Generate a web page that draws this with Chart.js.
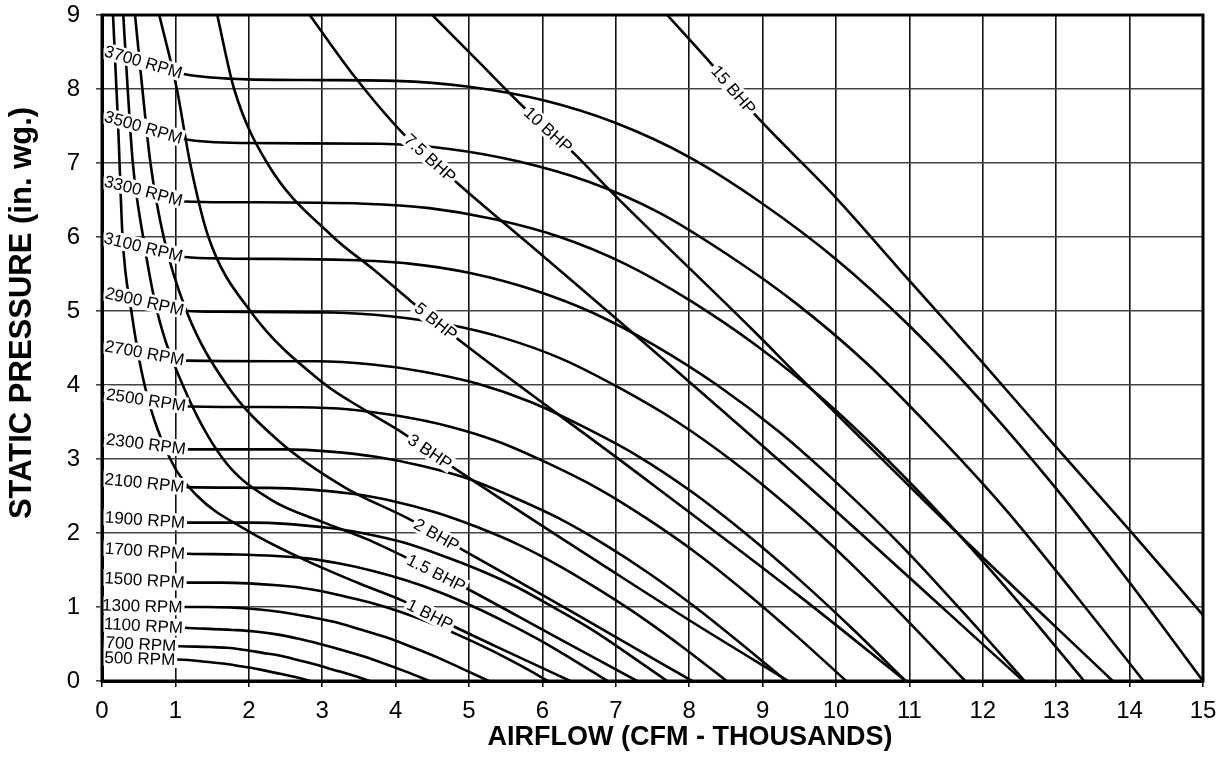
<!DOCTYPE html>
<html>
<head>
<meta charset="utf-8">
<title>Fan performance curves</title>
<script src="https://cdn.jsdelivr.net/npm/chart.js@4.4.1/dist/chart.umd.min.js"></script>
<style>
  html, body { margin: 0; padding: 0; background: #fff; }
  #wrap { width: 1221px; height: 762px; }
</style>
</head>
<body>
<div id="wrap"><canvas id="fanChart" width="1221" height="762"></canvas></div>
<script>
// ticks
const xTicks = [0, 1, 2, 3, 4, 5, 6, 7, 8, 9, 10, 11, 12, 13, 14, 15];
const yTicks = [0, 1, 2, 3, 4, 5, 6, 7, 8, 9];
const xTitle = 'AIRFLOW (CFM - THOUSANDS)';
const yTitle = 'STATIC PRESSURE (in. wg.)';

// constant speed curves, points are [airflow (thousand cfm), static pressure (in. wg.)]
const rpmNames = ['3700 RPM', '3500 RPM', '3300 RPM', '3100 RPM', '2900 RPM', '2700 RPM', '2500 RPM', '2300 RPM',
                  '2100 RPM', '1900 RPM', '1700 RPM', '1500 RPM', '1300 RPM', '1100 RPM', '700 RPM', '500 RPM'];
const rpm3700 = [[0,8.53],[1.13,8.2],[2,8.13],[3,8.12],[4,8.11],[5,8.03],[6,7.85],[7,7.54],[8,7.08],[9,6.45],[10,5.7],[11,4.8],[12,3.76],[13,2.6],[14,1.33],[15,0]];
const rpm3500 = [[0,7.65],[1.13,7.32],[1.89,7.27],[3.78,7.26],[4.73,7.19],[5.68,7.02],[6.62,6.75],[7.57,6.34],[8.51,5.77],[9.46,5.1],[10.41,4.3],[11.35,3.36],[12.3,2.33],[13.24,1.19],[14.19,0]];
const rpm3300 = [[0,6.77],[1.13,6.48],[1.78,6.47],[3.57,6.45],[4.46,6.39],[5.35,6.24],[6.24,6.0],[7.14,5.63],[8.03,5.13],[8.92,4.53],[9.81,3.82],[10.7,2.99],[11.59,2.07],[12.49,1.06],[13.38,0]];
const rpm3100 = [[0,6.0],[1.13,5.73],[1.68,5.71],[3.35,5.69],[4.19,5.64],[5.03,5.51],[5.86,5.29],[6.7,4.97],[7.54,4.53],[8.38,4.0],[9.22,3.37],[10.05,2.64],[10.89,1.83],[11.73,0.93],[12.57,0]];
const rpm2900 = [[0,5.26],[1.16,5.0],[1.57,4.99],[3.14,4.98],[3.92,4.93],[4.7,4.82],[5.49,4.63],[6.27,4.35],[7.05,3.96],[7.84,3.5],[8.62,2.95],[9.41,2.31],[10.19,1.6],[10.97,0.82],[11.76,0]];
const rpm2700 = [[0,4.54],[1.16,4.33],[2.92,4.32],[3.65,4.28],[4.38,4.18],[5.11,4.02],[5.84,3.77],[6.57,3.43],[7.3,3.04],[8.03,2.56],[8.76,2.0],[9.49,1.38],[10.22,0.71],[10.95,0]];
const rpm2500 = [[0,3.89],[1.2,3.71],[2.7,3.7],[3.38,3.67],[4.05,3.58],[4.73,3.44],[5.41,3.23],[6.08,2.94],[6.76,2.6],[7.43,2.19],[8.11,1.72],[8.78,1.19],[9.46,0.61],[10.14,0]];
const rpm2300 = [[0,3.28],[1.2,3.13],[2.49,3.13],[3.11,3.1],[3.73,3.03],[4.35,2.91],[4.97,2.74],[5.59,2.49],[6.22,2.2],[6.84,1.85],[7.46,1.45],[8.08,1.0],[8.7,0.51],[9.32,0]];
const rpm2100 = [[0,2.74],[1.16,2.62],[2.27,2.61],[3.41,2.53],[3.97,2.43],[4.54,2.28],[5.11,2.08],[5.68,1.84],[6.24,1.55],[6.81,1.21],[7.38,0.84],[7.95,0.43],[8.51,0]];
const rpm1900 = [[0,2.22],[1.17,2.14],[2.05,2.14],[3.08,2.07],[3.59,1.99],[4.11,1.87],[4.62,1.7],[5.14,1.5],[5.65,1.27],[6.16,0.99],[6.68,0.69],[7.19,0.35],[7.7,0]];
const rpm1700 = [[0,1.8],[1.17,1.72],[1.84,1.71],[2.76,1.66],[3.22,1.59],[3.68,1.49],[4.14,1.36],[4.6,1.2],[5.05,1.01],[5.51,0.79],[5.97,0.55],[6.43,0.28],[6.89,0]];
const rpm1500 = [[0,1.4],[1.16,1.33],[1.62,1.33],[2.43,1.29],[2.84,1.24],[3.24,1.16],[3.65,1.06],[4.05,0.94],[4.46,0.79],[4.86,0.62],[5.27,0.43],[5.68,0.22],[6.08,0]];
const rpm1300 = [[0,1.03],[1.1,1.0],[1.41,1.0],[2.11,0.97],[2.46,0.93],[2.81,0.87],[3.16,0.8],[3.51,0.7],[3.87,0.59],[4.22,0.46],[4.57,0.32],[4.92,0.16],[5.27,0]];
const rpm1100 = [[0,0.78],[1.13,0.72],[1.78,0.69],[2.08,0.67],[2.38,0.63],[2.68,0.57],[2.97,0.5],[3.27,0.42],[3.57,0.33],[3.86,0.23],[4.16,0.12],[4.46,0]];
const rpm700  = [[0,0.53],[1.06,0.47],[1.46,0.46],[1.7,0.45],[1.95,0.42],[2.19,0.38],[2.43,0.34],[2.68,0.28],[2.92,0.22],[3.16,0.15],[3.4,0.08],[3.65,0]];
const rpm500  = [[0,0.32],[1.03,0.29],[1.32,0.27],[1.51,0.25],[1.7,0.23],[1.89,0.2],[2.08,0.17],[2.27,0.13],[2.46,0.09],[2.65,0.05],[2.84,0]];
const rpmCurves = [rpm3700, rpm3500, rpm3300, rpm3100, rpm2900, rpm2700, rpm2500, rpm2300,
                   rpm2100, rpm1900, rpm1700, rpm1500, rpm1300, rpm1100, rpm700, rpm500];

// brake horsepower curves
const bhpNames = ['1 BHP', '1.5 BHP', '2 BHP', '3 BHP', '5 BHP', '7.5 BHP', '10 BHP', '15 BHP'];
const bhp1   = [[0.15,9],[0.22,7.5],[0.28,6.0],[0.4,5.0],[0.58,4.0],[0.93,3.0],[1.3,2.5],[1.97,2.04],[2.8,1.62],[3.5,1.32],[4.13,1.07],[4.81,0.73],[5.6,0.36],[6.38,0]];
const bhp1_5 = [[0.29,9],[0.35,8.0],[0.42,7.0],[0.56,6.0],[0.75,5.0],[1.1,4.0],[1.65,3.0],[2.3,2.45],[3.0,2.15],[3.6,1.92],[4.16,1.66],[4.95,1.26],[6.1,0.64],[7.29,0]];
const bhp2   = [[0.45,9],[0.55,8],[0.66,7],[0.84,6],[1.15,5],[1.7,4],[2.4,3.25],[3.3,2.62],[4.2,2.18],[4.92,1.77],[6.5,0.88],[8.04,0]];
const bhp3   = [[0.78,9],[1.02,8],[1.2,7],[1.45,6.0],[2.02,5.0],[3.01,4.03],[3.6,3.65],[4.1,3.35],[4.84,2.85],[6.96,1.48],[8.1,0.76],[9.35,0]];
const bhp5   = [[1.57,9],[1.8,8],[2.25,7],[3.15,6.0],[3.7,5.56],[4.2,5.14],[4.9,4.58],[7.2,2.88],[9.51,1.14],[10.95,0]];
const bhp7_5 = [[2.83,9],[3.4,8.22],[4.1,7.4],[4.84,6.73],[6.0,5.75],[7.19,4.74],[9.51,2.73],[12.55,0]];
const bhp10  = [[4.5,9],[5.15,8.35],[5.74,7.76],[6.42,7.14],[6.96,6.59],[8.87,4.74],[9.51,4.1],[11.6,2.05],[13.77,0]];
const bhp15  = [[7.7,9],[8.31,8.33],[8.9,7.65],[10,6.53],[11,5.41],[12,4.3],[13,3.16],[14,2.04],[15,0.89]];
const bhpCurves = [bhp1, bhp1_5, bhp2, bhp3, bhp5, bhp7_5, bhp10, bhp15];
// label sits on the segment that starts at this point index
const bhpLabelAt = [10, 10, 8, 7, 5, 2, 2, 1];

const family = '"Liberation Sans", Arial, Helvetica, sans-serif';

function curveSet(pts, name, labelAt) {
  return {
    label: name,
    labelAt: labelAt,
    data: pts.map(p => ({ x: p[0], y: p[1] })),
    borderColor: '#000',
    borderWidth: 2.6,
    pointRadius: 0,
    fill: false,
    cubicInterpolationMode: 'monotone'
  };
}

const datasets = [];
rpmCurves.forEach((c, i) => datasets.push(curveSet(c, rpmNames[i], 0)));
bhpCurves.forEach((c, i) => datasets.push(curveSet(c, bhpNames[i], bhpLabelAt[i])));

// text labels sitting on the curves, on a white patch
const curveLabels = {
  id: 'curveLabels',
  afterDatasetsDraw(chart) {
    const { ctx, scales: { x, y } } = chart;
    ctx.save();
    ctx.font = '17px ' + family;
    ctx.textAlign = 'center';
    ctx.textBaseline = 'middle';
    chart.data.datasets.forEach(ds => {
      const a = ds.data[ds.labelAt], b = ds.data[ds.labelAt + 1];
      const x1 = x.getPixelForValue(a.x), y1 = y.getPixelForValue(a.y);
      const x2 = x.getPixelForValue(b.x), y2 = y.getPixelForValue(b.y);
      const ang = Math.atan2(y2 - y1, x2 - x1);
      const w = ctx.measureText(ds.label).width;
      ctx.save();
      ctx.translate((x1 + x2) / 2, (y1 + y2) / 2);
      ctx.rotate(ang);
      ctx.fillStyle = '#fff';
      ctx.fillRect(-w / 2 - 2, -8.5, w + 4, 17);
      ctx.fillStyle = '#000';
      ctx.fillText(ds.label, 0, 1);
      ctx.restore();
    });
    ctx.restore();
  }
};

// frame and axis titles
const frameAndTitles = {
  id: 'frameAndTitles',
  afterDraw(chart) {
    const { ctx, chartArea: a } = chart;
    ctx.save();
    ctx.strokeStyle = '#000';
    ctx.lineWidth = 3;
    ctx.strokeRect(a.left, a.top, a.right - a.left, a.bottom - a.top);
    ctx.fillStyle = '#000';
    ctx.textAlign = 'center';
    ctx.textBaseline = 'middle';
    ctx.font = 'bold 27px ' + family;
    ctx.fillText(xTitle, 690, 738);
    ctx.translate(22, 313);
    ctx.rotate(-Math.PI / 2);
    ctx.font = 'bold 31px ' + family;
    ctx.fillText(yTitle, 0, 0);
    ctx.restore();
  }
};

new Chart(document.getElementById('fanChart'), {
  type: 'line',
  data: { datasets },
  plugins: [curveLabels, frameAndTitles],
  options: {
    responsive: false,
    animation: false,
    events: [],
    layout: { padding: { left: 0, right: 18, top: 15, bottom: 0 } },
    plugins: { legend: { display: false }, tooltip: { enabled: false } },
    scales: {
      x: {
        type: 'linear', min: 0, max: 15,
        afterBuildTicks: s => { s.ticks = xTicks.map(v => ({ value: v })); },
        afterFit: s => { s.height = 81; s.paddingLeft = 0; s.paddingRight = 0; s.paddingTop = 0; s.paddingBottom = 0; },
        ticks: { font: { size: 24, family }, color: '#000', padding: 10, maxRotation: 0, autoSkip: false },
        grid: { color: '#111', lineWidth: 1.6, tickLength: 6 },
        border: { color: '#000', width: 3 }
      },
      y: {
        type: 'linear', min: 0, max: 9,
        afterBuildTicks: s => { s.ticks = yTicks.map(v => ({ value: v })); },
        afterFit: s => { s.width = 102; s.paddingLeft = 0; s.paddingRight = 0; s.paddingTop = 0; s.paddingBottom = 0; },
        ticks: { font: { size: 24, family }, color: '#000', padding: 16, autoSkip: false },
        grid: { color: '#444', lineWidth: 1.6, tickLength: 6 },
        border: { color: '#000', width: 3 }
      }
    }
  }
});
</script>
</body>
</html>
